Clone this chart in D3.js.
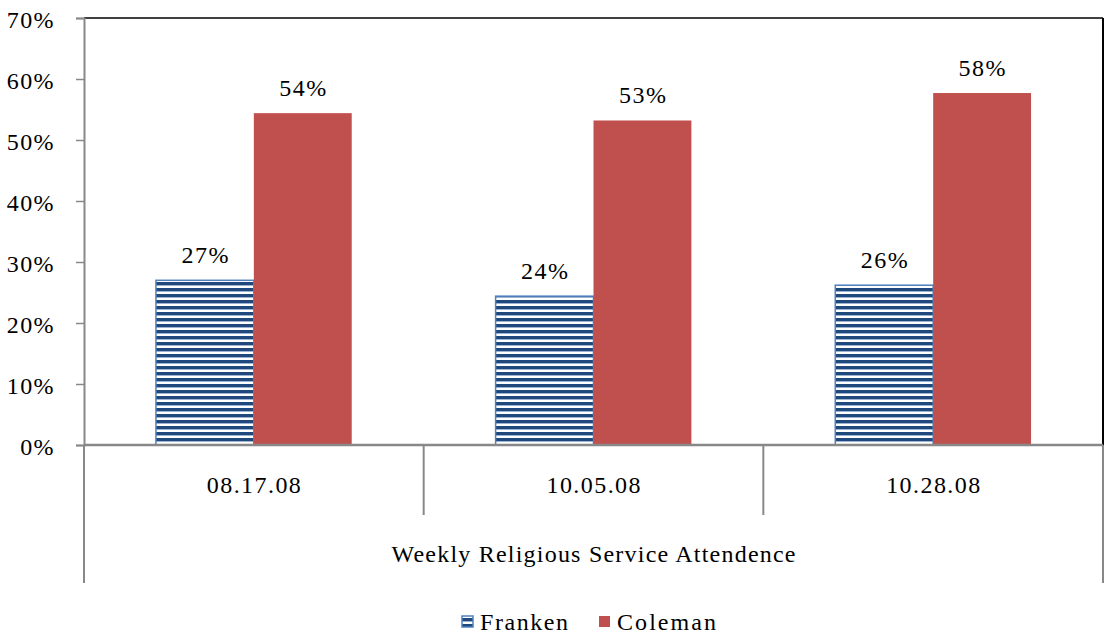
<!DOCTYPE html>
<html><head><meta charset="utf-8">
<script src="https://cdn.jsdelivr.net/npm/d3@7"></script>
<style>body{margin:0;background:#fff}svg{display:block}svg text{font-family:'Liberation Serif','DejaVu Serif','Noto Serif','Times New Roman',Times,serif}</style>
</head><body>
<svg id="c" width="1105" height="635"></svg>
<script>
const categories = ["08.17.08", "10.05.08", "10.28.08"];
const seriesNames = ["Franken", "Coleman"];
const franken = [27.0, 24.4, 26.2];
const coleman = [54.4, 53.2, 57.7];
const yTicks = [0, 10, 20, 30, 40, 50, 60, 70];
const groupTitle = "Weekly Religious Service Attendence";

const FS = 24;
const svg = d3.select("#c");
const L = 84, R = 1103, T = 18, B = 445;
const x = d3.scaleBand().domain(categories).range([L, R]).paddingInner(0).paddingOuter(0);
const xs = d3.scaleBand().domain(seriesNames).range([0, x.bandwidth()]).paddingInner(0).paddingOuter(0.735);
const y = d3.scaleLinear().domain([0, 70]).range([B, T]);

const defs = svg.append("defs");
const pat = defs.append("pattern").attr("id", "stripes").attr("patternUnits", "userSpaceOnUse")
  .attr("width", 8).attr("height", 6);
pat.append("rect").attr("width", 8).attr("height", 6).attr("fill", "#fff");
pat.append("rect").attr("y", 0).attr("width", 8).attr("height", 3).attr("fill", "#1F497D");
pat.append("rect").attr("y", 3).attr("width", 8).attr("height", 1).attr("fill", "#9db3d3");

svg.append("line").attr("x1", L).attr("x2", R).attr("y1", T).attr("y2", T).attr("stroke", "#000").attr("stroke-width", 1.5);
svg.append("line").attr("x1", R).attr("x2", R).attr("y1", T).attr("y2", B).attr("stroke", "#000").attr("stroke-width", 2);

const yAxis = d3.axisLeft(y).tickValues(yTicks).tickFormat(d => d + "%").tickSize(8).tickPadding(21);
const ya = svg.append("g").attr("transform", `translate(${L},0)`).call(yAxis);
ya.attr("font-family", null);
ya.select(".domain").attr("stroke", "#888").attr("stroke-width", 2);
ya.selectAll(".tick line").attr("stroke", "#888").attr("stroke-width", 1.5);
ya.selectAll(".tick text").attr("font-size", FS).attr("fill", "#000").attr("dy", "0.38em")
  .attr("letter-spacing", 1.4);

const data = categories.map((c, i) => ({c, vals: [{s: "Franken", v: franken[i]}, {s: "Coleman", v: coleman[i]}]}));
const g = svg.selectAll("g.grp").data(data).enter().append("g").attr("class", "grp")
  .attr("transform", d => `translate(${x(d.c)},0)`);
g.selectAll("rect").data(d => d.vals).enter().append("rect")
  .attr("x", d => xs(d.s)).attr("width", xs.bandwidth())
  .attr("y", d => y(d.v)).attr("height", d => B - y(d.v))
  .attr("fill", d => d.s === "Franken" ? "url(#stripes)" : "#C0504D")
  .attr("stroke", d => d.s === "Franken" ? "#4F81BD" : "none")
  .attr("stroke-width", 1.5);
g.selectAll("text.val").data(d => d.vals).enter().append("text").attr("class", "val")
  .attr("x", d => xs(d.s) + xs.bandwidth() / 2).attr("y", d => y(d.v) - 17)
  .attr("text-anchor", "middle").attr("font-size", FS)
  .attr("textLength", 47).attr("lengthAdjust", "spacing")
  .text(d => Math.round(d.v) + "%");

svg.append("line").attr("x1", L).attr("x2", R).attr("y1", B).attr("y2", B).attr("stroke", "#888").attr("stroke-width", 2.5);
const seps = categories.map(c => x(c)).concat([R]);
svg.selectAll("line.sep").data(seps).enter().append("line").attr("class", "sep")
  .attr("x1", d => d).attr("x2", d => d).attr("y1", B)
  .attr("y2", (d, i) => (i === 0 || i === seps.length - 1) ? 583 : 515)
  .attr("stroke", "#888").attr("stroke-width", 2);
svg.selectAll("text.cat").data(categories).enter().append("text").attr("class", "cat")
  .attr("x", d => x(d) + x.bandwidth() / 2).attr("y", 493).attr("text-anchor", "middle")
  .attr("font-size", FS).attr("textLength", 94).attr("lengthAdjust", "spacing").text(d => d);
svg.append("text").attr("x", (L + R) / 2).attr("y", 562).attr("text-anchor", "middle")
  .attr("font-size", FS).attr("textLength", 404).attr("lengthAdjust", "spacing").text(groupTitle);

const leg = svg.append("g");
const legX = [462, 599];
const legW = [88, 99];
seriesNames.forEach((s, i) => {
  leg.append("rect").attr("x", legX[i]).attr("y", 616).attr("width", 11).attr("height", 11)
    .attr("fill", s === "Franken" ? "url(#stripes)" : "#C0504D")
    .attr("stroke", s === "Franken" ? "#4F81BD" : "none").attr("stroke-width", 1.5);
  leg.append("text").attr("x", legX[i] + 18).attr("y", 630).attr("font-size", FS)
    .attr("textLength", legW[i]).attr("lengthAdjust", "spacing").text(s);
});
</script>
</body></html>
